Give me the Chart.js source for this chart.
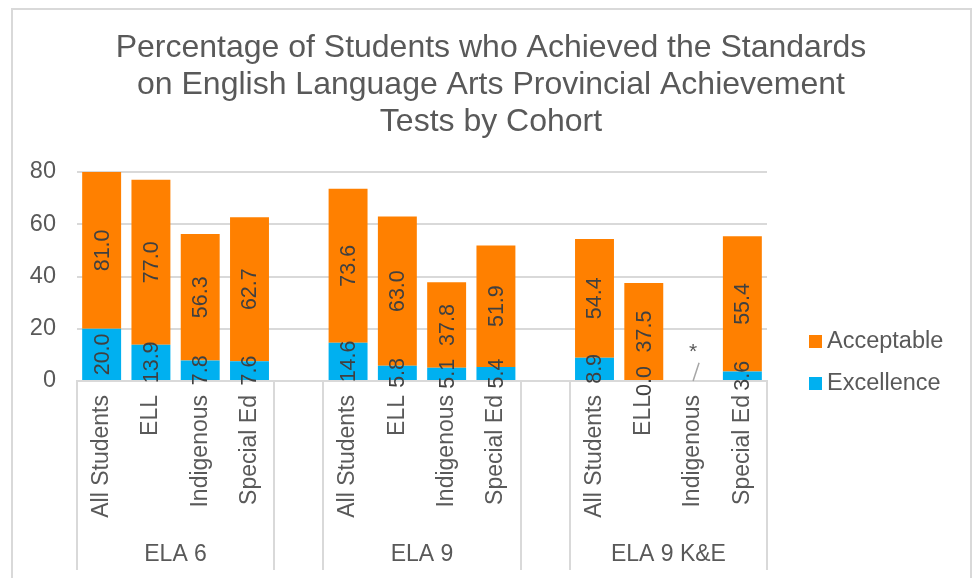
<!DOCTYPE html>
<html>
<head>
<meta charset="utf-8">
<script src="https://cdn.jsdelivr.net/npm/chart.js@4.4.1/dist/chart.umd.min.js"></script>
<style>
  html, body { margin: 0; padding: 0; background: #fff; }
</style>
</head>
<body>
<canvas id="mycanvas" width="976" height="578"></canvas>
<script>
// data
var categories = ['All Students', 'ELL', 'Indigenous', 'Special Ed', '',
                  'All Students', 'ELL', 'Indigenous', 'Special Ed', '',
                  'All Students', 'ELL', 'Indigenous', 'Special Ed'];
var groups = ['ELA 6', 'ELA 9', 'ELA 9 K&E'];
var groupStart = [0, 5, 10];
var groupSize = 4;
var acceptable = [81.0, 77.0, 56.3, 62.7, null, 73.6, 63.0, 37.8, 51.9, null, 54.4, 37.5, null, 55.4];
var excellence = [20.0, 13.9, 7.8, 7.6, null, 14.6, 5.8, 5.1, 5.4, null, 8.9, 0.0, null, 3.6];
var notes = ['', '', '', '', '', '', '', '', '', '', '', '', '*', ''];
var yTicks = [0, 20, 40, 60, 80];
var titleLines = ['Percentage of Students who Achieved the Standards',
                  'on English Language Arts Provincial Achievement',
                  'Tests by Cohort'];

var textColor = '#595959';
var fontFamily = '"Liberation Sans", Arial, sans-serif';

// acceptable is drawn stacked on top of excellence
var acceptableRest = [];
for (var i in acceptable) {
  if (acceptable[i] === null) acceptableRest.push(null);
  else acceptableRest.push(+(acceptable[i] - excellence[i]).toFixed(1));
}

var extras = {
  id: 'extras',
  beforeDraw: function(chart) {
    var c = chart.ctx;
    c.save();
    c.strokeStyle = '#d9d9d9';
    c.lineWidth = 2;
    c.strokeRect(12, 9, 959, 620);

    // title
    c.fillStyle = textColor;
    c.font = '32px ' + fontFamily;
    c.textAlign = 'center';
    c.textBaseline = 'middle';
    titleLines.forEach(function(t, k) {
      c.fillText(t, 491, 48 + k * 37);
    });
    c.restore();
  },
  afterDraw: function(chart) {
    var c = chart.ctx;
    var x = chart.scales.x, y = chart.scales.y;
    var step = (x.right - x.left) / categories.length;
    c.save();

    // group separators
    c.strokeStyle = '#d9d9d9';
    c.lineWidth = 2;
    var bounds = [];
    groupStart.forEach(function(s) { bounds.push(s, s + groupSize); });
    bounds.forEach(function(b) {
      var bx = Math.round(x.left + b * step);
      c.beginPath();
      c.moveTo(bx, y.bottom);
      c.lineTo(bx, 570);
      c.stroke();
    });

    // group labels
    c.fillStyle = textColor;
    c.font = '23px ' + fontFamily;
    c.textAlign = 'center';
    c.textBaseline = 'middle';
    groups.forEach(function(g, k) {
      var cx = x.left + (groupStart[k] + groupSize / 2) * step;
      c.fillText(g, cx, 555);
    });

    // value labels, rotated
    c.font = '21.5px ' + fontFamily;
    c.fillStyle = '#404040';
    var vals = [excellence, acceptable];
    chart.data.datasets.forEach(function(ds, di) {
      chart.getDatasetMeta(di).data.forEach(function(bar, j) {
        var v = vals[di][j];
        if (v === null) return;
        var top = Math.max(bar.y, y.top);
        var cy = (top + bar.base) / 2;
        c.save();
        c.translate(bar.x, cy);
        c.rotate(-Math.PI / 2);
        c.fillText(v.toFixed(1), 0, 1);
        c.restore();
      });
    });

    // notes for missing values
    notes.forEach(function(n, j) {
      if (!n) return;
      var cx = x.getPixelForValue(j);
      c.font = '21px ' + fontFamily;
      c.fillStyle = textColor;
      c.fillText(n, cx, y.getPixelForValue(11));
      c.strokeStyle = '#a6a6a6';
      c.lineWidth = 1.5;
      c.beginPath();
      c.moveTo(cx + 6, y.getPixelForValue(7));
      c.lineTo(cx, y.getPixelForValue(0));
      c.stroke();
    });

    // legend
    var items = [['Acceptable', '#ff8000', 342], ['Excellence', '#00b0f0', 384]];
    c.font = '23.5px ' + fontFamily;
    c.textAlign = 'left';
    items.forEach(function(it) {
      c.fillStyle = it[1];
      c.fillRect(809, it[2] - 7, 13, 13);
      c.fillStyle = textColor;
      c.fillText(it[0], 827, it[2]);
    });
    c.restore();
  }
};

var chartdata = {
  labels: categories,
  datasets: [
    {
      label: 'Excellence',
      backgroundColor: '#00b0f0',
      data: excellence
    },
    {
      label: 'Acceptable',
      backgroundColor: '#ff8000',
      data: acceptableRest
    }
  ]
};

var ctx = document.getElementById('mycanvas');

var barGraph = new Chart(ctx, {
  type: 'bar',
  data: chartdata,
  plugins: [extras],
  options: {
    responsive: false,
    animation: false,
    layout: { padding: { left: 0, right: 209, top: 172, bottom: 0 } },
    datasets: { bar: { categoryPercentage: 1, barPercentage: 0.79 } },
    plugins: {
      legend: { display: false },
      tooltip: { enabled: false },
      title: { display: false }
    },
    scales: {
      x: {
        stacked: true,
        afterFit: function(axis) { axis.height = 197; },
        grid: { display: false, drawTicks: false },
        border: { color: '#d9d9d9', width: 2 },
        ticks: {
          color: textColor,
          font: { family: fontFamily, size: 23 },
          minRotation: 90,
          maxRotation: 90,
          padding: 14,
          autoSkip: false
        }
      },
      y: {
        stacked: true,
        min: 0,
        max: 80,
        afterFit: function(axis) { axis.width = 77; },
        afterBuildTicks: function(axis) {
          axis.ticks = yTicks.map(function(v) { return { value: v }; });
        },
        grid: { color: '#d9d9d9', lineWidth: 2, drawTicks: false },
        border: { display: false },
        ticks: {
          color: textColor,
          font: { family: fontFamily, size: 23.5 },
          padding: 21
        }
      }
    }
  }
});
</script>
</body>
</html>
